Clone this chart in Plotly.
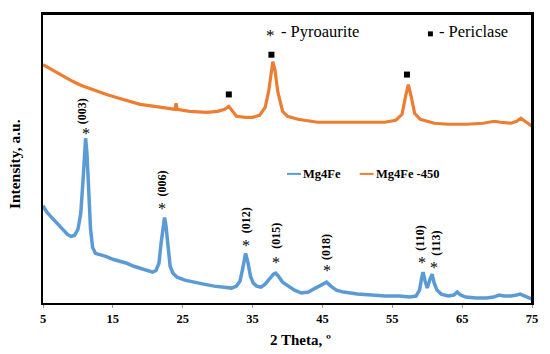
import plotly.graph_objects as go

# ---- data (intensity in arbitrary units) ----
mg4fe_x = [5.0, 5.5, 6.0, 6.5, 7.0, 7.5, 8.0, 8.5, 9.0, 9.5, 10.0, 10.4, 10.7, 10.9, 11.1, 11.3, 11.5, 11.8,
           12.1, 12.5, 13.0, 14.0, 15.0, 16.0, 17.0, 18.0, 19.0, 20.0, 20.7, 21.2, 21.6, 21.9, 22.2, 22.4,
           22.6, 22.9, 23.2, 23.6, 24.2, 25.3, 26.5, 28.0, 29.5, 31.0, 32.0, 32.7, 33.2, 33.6, 34.0, 34.3,
           34.7, 35.1, 35.6, 36.2, 36.8, 37.4, 38.0, 38.3, 38.7, 39.3, 40.0, 41.0, 42.0, 43.0, 44.0, 45.0,
           45.6, 46.2, 47.0, 48.0, 49.0, 50.0, 52.0, 54.0, 56.0, 57.5, 58.4, 58.9, 59.2, 59.4, 59.7, 60.0,
           60.4, 60.7, 61.0, 61.4, 62.0, 63.0, 63.8, 64.3, 64.8, 65.5, 67.0, 68.5, 69.5, 70.3, 71.0, 72.0,
           72.8, 73.3, 74.0, 75.0]
mg4fe_y = [98, 92, 88, 84, 80, 76, 72, 69, 67, 68, 74, 90, 120, 150, 166, 150, 115, 75,
           56, 50, 49, 47, 44, 42, 40, 37, 35, 33, 31, 33, 40, 60, 80, 86,
           78, 55, 37, 30, 26, 23, 21, 19, 17, 16, 15, 17, 22, 35, 50, 42,
           27, 20, 17, 16, 19, 24, 29, 30, 27, 21, 18, 13, 10, 11, 15, 19,
           21, 17, 13, 11, 10, 9, 8, 7, 7, 6, 7, 13, 25, 31, 22, 15,
           24, 29, 20, 13, 9, 7, 8, 11, 8, 6, 5, 5, 6, 8, 7, 7,
           8, 9, 7, 4]

mg4fe450_x = [5.0, 6.0, 7.0, 8.0, 9.3, 10.5, 12.0, 14.1, 16.0, 18.9, 21.0, 23.0, 23.9, 24.05, 24.2, 26.0,
              28.4, 30.0, 31.0, 31.6, 32.1, 32.7, 34.0, 35.0, 36.0, 36.8, 37.3, 37.7, 37.9, 38.2, 38.6,
              39.3, 40.0, 41.5, 44.3, 47.0, 50.0, 53.9, 55.5, 56.4, 56.9, 57.3, 57.7, 58.2, 59.0, 61.0,
              63.0, 65.7, 68.0, 69.6, 70.5, 72.0, 72.8, 73.4, 74.2, 75.0]
mg4fe450_y = [240, 236, 232, 228, 223, 219, 215, 210, 206, 200, 198, 196, 195, 201, 195, 193,
              192, 193, 195, 198, 193, 188, 187, 187, 189, 197, 213, 235, 243, 235, 213,
              193, 188, 185, 182, 182, 182, 182, 184, 190, 208, 220, 208, 191, 185, 181,
              180, 180, 181, 183, 182, 181, 183, 186, 182, 178]

hkl_labels = ["(003)", "(006)", "(012)", "(015)", "(018)", "(110)", "(113)"]
hkl_label_x = [10.7, 22.0, 34.0, 38.4, 45.6, 59.0, 61.3]
hkl_label_y = [193, 120, 83, 68, 56, 65, 60]
star_x = [11.1, 22.1, 34.1, 38.4, 45.6, 59.3, 61.0]
star_y = [171, 95, 58, 41, 33, 41, 36]

periclase_x = [31.6, 37.7, 57.1]
periclase_y = [210, 250, 230]

x_ticks = [5, 15, 25, 35, 45, 55, 65, 75]

BLUE = "#5b9bd5"
ORANGE = "#ed7d31"
FONT = "Liberation Serif"

fig = go.Figure()
fig.add_trace(go.Scatter(x=mg4fe_x, y=mg4fe_y, mode="lines", name="Mg4Fe",
                         line=dict(color=BLUE, width=3.5), showlegend=False))
fig.add_trace(go.Scatter(x=mg4fe450_x, y=mg4fe450_y, mode="lines", name="Mg4Fe -450",
                         line=dict(color=ORANGE, width=3.2), showlegend=False))
fig.add_trace(go.Scatter(x=periclase_x, y=periclase_y, mode="markers",
                         marker=dict(symbol="square", size=6, color="black"), showlegend=False))

annotations = []
for lab, lx, ly in zip(hkl_labels, hkl_label_x, hkl_label_y):
    annotations.append(dict(x=lx, y=ly, text="<b>%s</b>" % lab, textangle=-90, showarrow=False,
                            xanchor="center", yanchor="middle",
                            font=dict(family=FONT, size=12, color="black")))
for sx, sy in zip(star_x, star_y):
    annotations.append(dict(x=sx, y=sy, text="*", showarrow=False,
                            xanchor="center", yanchor="middle",
                            font=dict(family=FONT, size=16, color="black")))

def px(xp):
    return (xp - 43) / 491.0

def py(yp):
    return (303 - yp) / 291.0

def paper_note(x, y, text, size, xanchor="center", angle=0):
    return dict(xref="paper", yref="paper", x=px(x), y=py(y), text=text, showarrow=False,
                xanchor=xanchor, yanchor="middle", textangle=angle,
                font=dict(family=FONT, size=size, color="black"))

# top key texts
annotations.append(paper_note(271, 34, "*", 17))
annotations.append(paper_note(280, 30, "- Pyroaurite", 16.5, "left"))
annotations.append(paper_note(439, 30, "- Periclase", 16.5, "left"))
# legend
annotations.append(paper_note(302, 173, "<b>Mg4Fe</b>", 12.5, "left"))
annotations.append(paper_note(375, 173, "<b>Mg4Fe -450</b>", 12.5, "left"))
# axis titles
annotations.append(paper_note(302, 340, "<b>2 Theta, º</b>", 15))
annotations.append(paper_note(15, 163, "<b>Intensity, a.u.</b>", 15.5, "center", -90))

shapes = [
    # plot frame (top and right edges) as thin filled bars
    dict(type="rect", xref="paper", yref="paper", x0=px(42), x1=px(535), y0=py(13), y1=py(11),
         fillcolor="black", line=dict(width=0), layer="above"),
    dict(type="rect", xref="paper", yref="paper", x0=px(533), x1=px(535), y0=py(304), y1=py(11),
         fillcolor="black", line=dict(width=0), layer="above"),
    dict(type="rect", xref="paper", yref="paper", x0=px(429.5), x1=px(434.5), y0=py(34.5), y1=py(29.5),
         fillcolor="black", line=dict(width=0)),
    dict(type="line", xref="paper", yref="paper", x0=px(288), x1=px(302), y0=py(173), y1=py(173),
         line=dict(color=BLUE, width=2)),
    dict(type="line", xref="paper", yref="paper", x0=px(361), x1=px(375), y0=py(173), y1=py(173),
         line=dict(color=ORANGE, width=2)),
]

fig.update_layout(
    width=550, height=354,
    margin=dict(l=43, r=16, t=12, b=51),
    plot_bgcolor="white", paper_bgcolor="white",
    annotations=annotations, shapes=shapes,
    xaxis=dict(range=[5, 75], tickvals=x_ticks, ticktext=["<b>%d</b>" % t for t in x_ticks],
               showgrid=False, zeroline=False, showline=True, linecolor="black", linewidth=2,
               mirror=True, ticks="outside", ticklen=3, tickcolor="#999999",
               tickfont=dict(family=FONT, size=12.5, color="black")),
    yaxis=dict(range=[0, 291], showticklabels=False, showgrid=False, zeroline=False,
               showline=True, linecolor="black", linewidth=2, mirror=True, ticks=""),
)

fig.write_html("out.html", config={"displayModeBar": False},
               post_script="document.body.style.margin='0';document.body.style.padding='0';")
